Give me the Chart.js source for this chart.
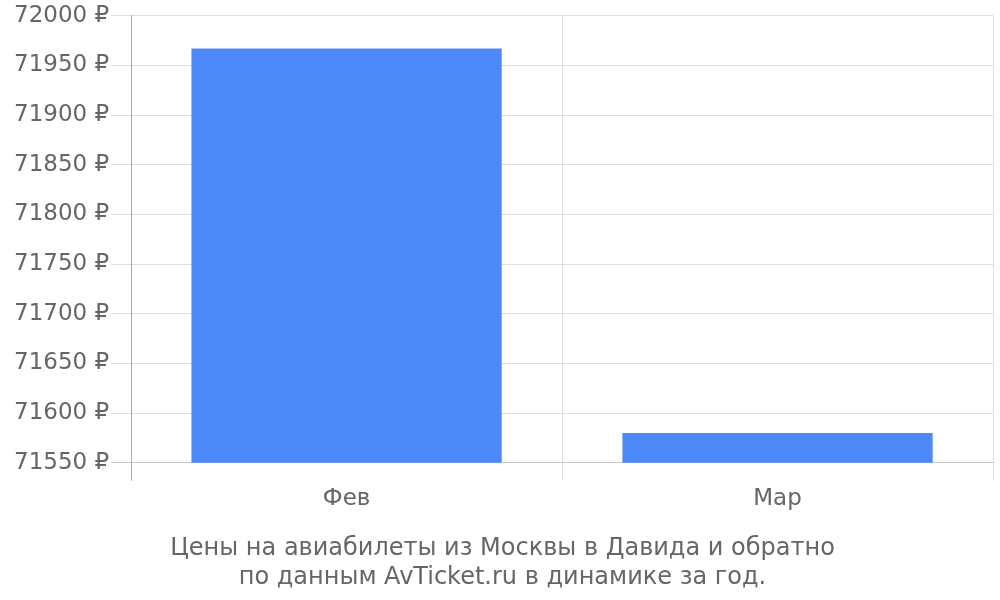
<!DOCTYPE html>
<html lang="ru">
<head>
    <meta charset="UTF-8">
    <title>Цены на авиабилеты</title>
    <script src="https://cdn.jsdelivr.net/npm/chart.js"></script>
    <style>
        body { margin: 0; background: #fff; }
        .wrap { width: 1000px; height: 600px; }
    </style>
</head>
<body>
    <div class="wrap"><canvas id="priceChart"></canvas></div>
    <script>
        // данные
        const months = ['Фев', 'Мар'];
        const prices = [71967, 71580];
        const yMin = 71550;
        const yMax = 72000;
        const yStep = 50;
        const titleLines = [
            'Цены на авиабилеты из Москвы в Давида и обратно',
            'по данным AvTicket.ru в динамике за год.'
        ];

        Chart.defaults.font.family = "'DejaVu Sans', sans-serif";
        Chart.defaults.color = '#666';

        new Chart(document.getElementById('priceChart'), {
            type: 'bar',
            data: {
                labels: months,
                datasets: [{
                    data: prices,
                    backgroundColor: '#4d89f9',
                    barPercentage: 0.72,
                    categoryPercentage: 1
                }]
            },
            options: {
                responsive: true,
                maintainAspectRatio: false,
                animation: false,
                layout: { padding: { top: 3, right: 7, left: 12, bottom: 8 } },
                plugins: {
                    legend: { display: false },
                    tooltip: { enabled: false },
                    title: {
                        display: true,
                        position: 'bottom',
                        text: titleLines,
                        color: '#666',
                        font: { size: 24, weight: 'normal' },
                        lineHeight: 1.17,
                        padding: { top: 18, bottom: 0 }
                    }
                },
                scales: {
                    x: {
                        grid: {
                            offset: true,
                            tickLength: 18,
                            color: ctx => ctx.index === 0 ? '#aaa' : '#dedede'
                        },
                        border: { color: '#c8c8c8' },
                        ticks: { font: { size: 23 }, padding: 4 }
                    },
                    y: {
                        min: yMin,
                        max: yMax,
                        grid: {
                            tickLength: 20,
                            color: ctx => ctx.index === 0 ? '#c8c8c8' : '#dedede'
                        },
                        border: { color: '#aaa' },
                        ticks: {
                            stepSize: yStep,
                            font: { size: 23 },
                            padding: 2,
                            callback: v => v + ' ₽'
                        }
                    }
                }
            }
        });
    </script>
</body>
</html>
